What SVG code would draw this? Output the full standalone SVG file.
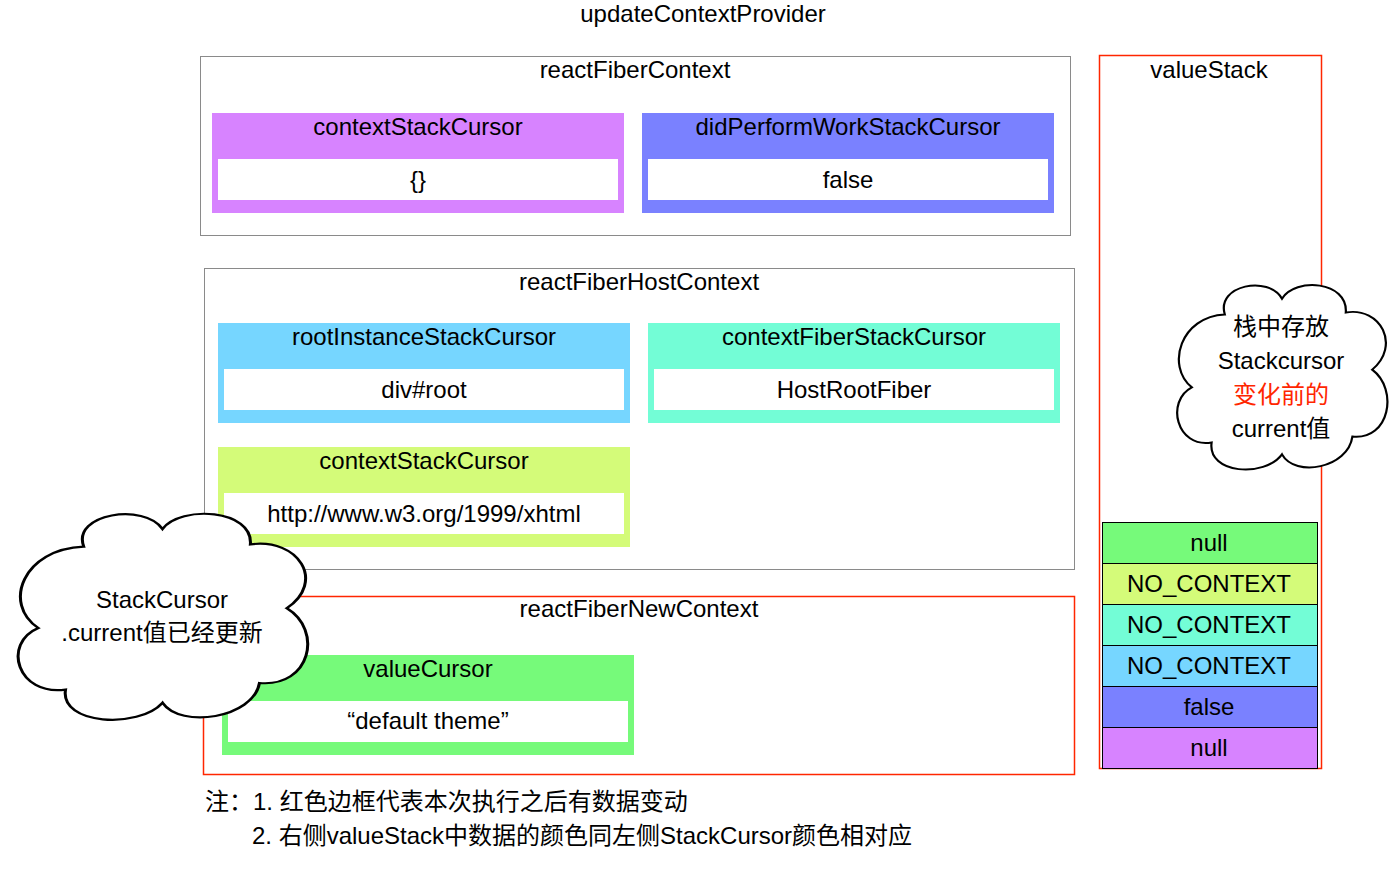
<svg xmlns="http://www.w3.org/2000/svg" width="1398" height="878" viewBox="0 0 1398 878">
<style>
text{font-family:"Liberation Sans",Arial,"Noto Sans CJK SC",sans-serif;font-size:24px;fill:#000;text-anchor:middle}
.grp{fill:#fff;stroke:#8a8a8a;stroke-width:1}
.red{fill:#fff;stroke:#ff2600;stroke-width:1.5}
.inner{fill:#fff}
.cell{stroke:#000;stroke-width:1}
.cloud{fill:#fff;stroke:#000;stroke-width:1}
.note{text-anchor:start}
</style>
<defs>
<path id="cloudShape" d="M 24,18 C 20,3 44,-2 50,10 C 56,-1 80,1 79,17 C 95,14 104,34 91,46 C 103,56 99,82 82,80 C 80,96 56,101 50,89 C 42,101 16,99 18,83 C 2,86 -3,62 9,55 C -3,44 4,19 24,18 Z"/>
</defs>
<text x="703" y="22">updateContextProvider</text>

<g id="reactFiberContext">
<rect class="grp" x="200.5" y="56.5" width="870" height="179"/>
<text x="635" y="78">reactFiberContext</text>
</g>
<g id="contextStackCursor1">
<rect x="212" y="113" width="412" height="100" fill="#d783ff"/>
<rect class="inner" x="218" y="159" width="400" height="41"/>
<text x="418" y="135">contextStackCursor</text>
<text x="418" y="188">{}</text>
</g>
<g id="didPerformWorkStackCursor">
<rect x="642" y="113" width="412" height="100" fill="#7a81ff"/>
<rect class="inner" x="648" y="159" width="400" height="41"/>
<text x="848" y="135">didPerformWorkStackCursor</text>
<text x="848" y="188">false</text>
</g>

<g id="reactFiberHostContext">
<rect class="grp" x="204.5" y="268.5" width="870" height="301"/>
<text x="639" y="290">reactFiberHostContext</text>
</g>
<g id="rootInstanceStackCursor">
<rect x="218" y="323" width="412" height="100" fill="#76d6ff"/>
<rect class="inner" x="224" y="369" width="400" height="41"/>
<text x="424" y="345">rootInstanceStackCursor</text>
<text x="424" y="398">div#root</text>
</g>
<g id="contextFiberStackCursor">
<rect x="648" y="323" width="412" height="100" fill="#73fdd6"/>
<rect class="inner" x="654" y="369" width="400" height="41"/>
<text x="854" y="345">contextFiberStackCursor</text>
<text x="854" y="398">HostRootFiber</text>
</g>
<g id="contextStackCursor2">
<rect x="218" y="447" width="412" height="100" fill="#d4fb79"/>
<rect class="inner" x="224" y="493" width="400" height="41"/>
<text x="424" y="469">contextStackCursor</text>
<text x="424" y="522">http://www.w3.org/1999/xhtml</text>
</g>

<g id="reactFiberNewContext">
<rect class="red" x="203.5" y="596.5" width="871" height="178"/>
<text x="639" y="617">reactFiberNewContext</text>
</g>
<g id="valueCursor">
<rect x="222" y="655" width="412" height="100" fill="#76fa7a"/>
<rect class="inner" x="228" y="701" width="400" height="41"/>
<text x="428" y="677">valueCursor</text>
<text x="428" y="729">“default theme”</text>
</g>

<g id="valueStack">
<rect class="red" x="1099.5" y="55.5" width="222" height="713"/>
<text x="1209" y="78">valueStack</text>
<rect class="cell" x="1102.5" y="522.5" width="215" height="41" fill="#76fa7a"/>
<rect class="cell" x="1102.5" y="563.5" width="215" height="41" fill="#d4fb79"/>
<rect class="cell" x="1102.5" y="604.5" width="215" height="41" fill="#73fdd6"/>
<rect class="cell" x="1102.5" y="645.5" width="215" height="41" fill="#76d6ff"/>
<rect class="cell" x="1102.5" y="686.5" width="215" height="41" fill="#7a81ff"/>
<rect class="cell" x="1102.5" y="727.5" width="215" height="41" fill="#d783ff"/>
<text x="1209" y="551">null</text>
<text x="1209" y="592">NO_CONTEXT</text>
<text x="1209" y="633">NO_CONTEXT</text>
<text x="1209" y="674">NO_CONTEXT</text>
<text x="1209" y="715">false</text>
<text x="1209" y="756">null</text>
</g>

<g id="cloudRight">
<use href="#cloudShape" class="cloud" transform="translate(1172,279) scale(2.2,1.97)" style="vector-effect:non-scaling-stroke"/>
<text x="1281" y="335">栈中存放</text>
<text x="1281" y="369">Stackcursor</text>
<text x="1281" y="403" style="fill:#ff2600">变化前的</text>
<text x="1281" y="437">current值</text>
</g>

<g id="cloudLeft">
<use href="#cloudShape" class="cloud" transform="translate(11,507) scale(3.03,2.2)" style="vector-effect:non-scaling-stroke"/>
<text x="162" y="608">StackCursor</text>
<text x="162" y="641">.current值已经更新</text>
</g>

<g id="notes">
<text class="note" x="205" y="810">注：1. 红色边框代表本次执行之后有数据变动</text>
<text class="note" x="252" y="844">2. 右侧valueStack中数据的颜色同左侧StackCursor颜色相对应</text>
</g>
<g id="connectors"/>
</svg>
